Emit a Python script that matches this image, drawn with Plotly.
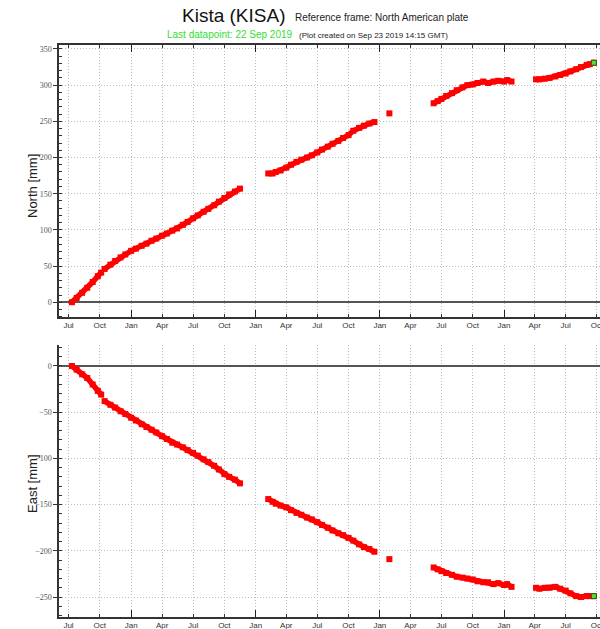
import plotly.graph_objects as go

# ---------------- data ----------------
dates = [
    "2015-07-11", "2015-07-25", "2015-08-10", "2015-08-25", "2015-09-10", "2015-09-25", "2015-10-05",
    "2015-10-15", "2015-11-01", "2015-11-15", "2015-12-01", "2015-12-15", "2016-01-01", "2016-01-15",
    "2016-02-01", "2016-02-15", "2016-03-01", "2016-03-15", "2016-04-01", "2016-04-15", "2016-05-01",
    "2016-05-15", "2016-06-01", "2016-06-15", "2016-07-01", "2016-07-15", "2016-08-01", "2016-08-15",
    "2016-09-01", "2016-09-15", "2016-10-01", "2016-10-15", "2016-11-01", "2016-11-16",
    "2017-02-07", "2017-02-20", "2017-03-01", "2017-03-15", "2017-04-01", "2017-04-15", "2017-05-01",
    "2017-05-15", "2017-06-01", "2017-06-15", "2017-07-01", "2017-07-15", "2017-08-01", "2017-08-15",
    "2017-09-01", "2017-09-15", "2017-10-01", "2017-10-15", "2017-11-01", "2017-11-15", "2017-12-01",
    "2017-12-16",
    "2018-01-29",
    "2018-06-08", "2018-06-20", "2018-07-01", "2018-07-15", "2018-08-01", "2018-08-15", "2018-09-01",
    "2018-09-15", "2018-10-01", "2018-10-15", "2018-11-01", "2018-11-15", "2018-12-01", "2018-12-15",
    "2019-01-01", "2019-01-10", "2019-01-23",
    "2019-04-05", "2019-04-15", "2019-05-01", "2019-05-15", "2019-06-01", "2019-06-15", "2019-07-01",
    "2019-07-15", "2019-08-01", "2019-08-15", "2019-09-01", "2019-09-10", "2019-09-22",
]

north = [
    0, 6, 13, 20, 28, 36, 41,
    46, 52, 57, 62, 66, 71, 74, 78, 81, 85, 88, 92, 95, 99, 102, 107, 111, 116, 120, 125, 129,
    134, 139, 144, 149, 153, 157,
    178, 178, 180, 182, 186, 190, 194, 197, 200, 203, 207, 211, 215, 219, 223, 227, 231, 237,
    241, 244, 247, 249,
    261,
    275, 278, 281, 285, 289, 293, 297, 300, 301, 303, 305, 303, 305, 306, 305, 307, 305,
    308, 308, 309, 310, 312, 314, 316, 319, 322, 325, 328, 329, 331,
]

east = [
    0, -4, -9, -13, -20, -27, -31,
    -38, -42, -45, -49, -52, -56, -59, -63, -66, -69, -72, -76, -79, -83, -85, -88, -91, -94,
    -97, -101, -104, -108, -112, -117, -120, -123, -127,
    -144, -147, -149, -151, -153, -156, -159, -161, -164, -166, -169, -172, -175, -178, -181,
    -183, -186, -189, -193, -196, -198, -201,
    -209,
    -218, -220, -222, -224, -226, -228, -229, -230, -231, -233, -234, -234, -236, -235, -237,
    -236, -239,
    -240, -241, -240, -240, -239, -241, -243, -246, -249, -250, -249, -249, -249,
]

# continuous runs of observations (a new id where the record has a gap)
segment = [1] * 7 + [2] * 27 + [3] * 22 + [4] * 1 + [5] * 17 + [6] * 13

title_main = "Kista (KISA)"
title_frame = "Reference frame: North American plate"
title_last = "Last datapoint: 22 Sep 2019"
title_created = "(Plot created on Sep 23 2019 14:15 GMT)"

x_range = ["2015-06-03", "2019-10-10"]
north_range = [-20.4, 355.5]
east_range = [-271.6, 22.7]

# ---------------- figure ----------------
W, H = 600, 629
L, R = 59, 0
PW = W - L - R


def px(xpix):
    return (xpix - L) / PW


def py(ypix):
    return (H - ypix) / H


RED = "#ff0000"
fig = go.Figure()

for panel, values, ya in (("x", north, "y"), ("x2", east, "y2")):
    for sid in sorted(set(segment)):
        xs = [d for d, s in zip(dates, segment) if s == sid]
        ys = [v for v, s in zip(values, segment) if s == sid]
        fig.add_trace(go.Scatter(
            x=xs, y=ys, xaxis=panel, yaxis=ya, mode="lines+markers",
            line=dict(color=RED, width=5.5),
            marker=dict(color=RED, size=6, symbol="square"),
            showlegend=False, hoverinfo="x+y",
        ))
    # last datapoint highlighted in green
    fig.add_trace(go.Scatter(
        x=[dates[-1]], y=[values[-1]], xaxis=panel, yaxis=ya, mode="markers",
        marker=dict(color="#55dd33", size=5, symbol="square", line=dict(color="#335522", width=1)),
        showlegend=False,
    ))

# empty traces so the overlaid year-tick axes are drawn
fig.add_trace(go.Scatter(x=[], y=[], xaxis="x3", yaxis="y", showlegend=False, hoverinfo="skip"))
fig.add_trace(go.Scatter(x=[], y=[], xaxis="x4", yaxis="y2", showlegend=False, hoverinfo="skip"))

grid = dict(showgrid=True, gridcolor="#bdbdbd", griddash="1px,2px", gridwidth=1)
xcommon = dict(
    type="date", range=x_range, dtick="M3", tick0="2015-07-01", tickformat="%b",
    ticks="inside", ticklen=3, tickcolor="#333", tickwidth=1,
    showline=True, linecolor="#333", linewidth=1.5,
    tickfont=dict(family="Liberation Sans", size=8, color="#333"),
    ticklabeloverflow="allow",
    zeroline=False, automargin=False, **grid,
)
ycommon = dict(
    dtick=50, tick0=0, ticks="outside", ticklen=4, tickcolor="#333", tickwidth=1,
    showline=True, linecolor="#333", linewidth=1.5,
    tickfont=dict(family="Liberation Serif", size=8, color="#555"),
    zeroline=True, zerolinecolor="#555", zerolinewidth=1.5,
    minor=dict(dtick=10, ticks="inside", ticklen=3, tickcolor="#333", showgrid=False),
    automargin=False, **grid,
)
yearticks = dict(
    type="date", range=x_range, dtick="M12", tick0="2016-01-01",
    ticks="inside", ticklen=7, tickcolor="#222", tickwidth=1.2,
    showticklabels=False, showgrid=False, zeroline=False, showline=False,
)

fig.update_layout(
    width=W, height=H,
    margin=dict(l=L, r=R, t=0, b=0, autoexpand=False),
    paper_bgcolor="white", plot_bgcolor="white",
    font=dict(family="Liberation Sans", color="#222"),
    xaxis=dict(domain=[0, 1], anchor="y", mirror="ticks", **xcommon),
    yaxis=dict(domain=[py(317), py(45)], anchor="x", range=north_range, **ycommon),
    xaxis2=dict(domain=[0, 1], anchor="y2", **xcommon),
    yaxis2=dict(domain=[py(617), py(345)], anchor="x2", range=east_range, **ycommon),
    xaxis3=dict(overlaying="x", anchor="y", mirror="ticks", **yearticks),
    xaxis4=dict(overlaying="x2", anchor="y2", **yearticks),
    annotations=[
        dict(text=title_main, x=px(180), y=py(15), xref="paper", yref="paper", xanchor="left",
             yanchor="middle", showarrow=False, font=dict(size=19, color="#111")),
        dict(text=title_frame, x=px(293), y=py(18), xref="paper", yref="paper", xanchor="left",
             yanchor="middle", showarrow=False, font=dict(size=10, color="#222")),
        dict(text=title_last, x=px(165), y=py(34), xref="paper", yref="paper", xanchor="left",
             yanchor="middle", showarrow=False, font=dict(size=10, color="#33dd33")),
        dict(text=title_created, x=px(297), y=py(35), xref="paper", yref="paper", xanchor="left",
             yanchor="middle", showarrow=False, font=dict(size=8, color="#222")),
        dict(text="North [mm]", x=px(33), y=py(186), xref="paper", yref="paper", textangle=-90,
             xanchor="center", yanchor="middle", showarrow=False, font=dict(size=13, color="#222")),
        dict(text="East [mm]", x=px(32), y=py(484), xref="paper", yref="paper", textangle=-90,
             xanchor="center", yanchor="middle", showarrow=False, font=dict(size=13, color="#222")),
    ],
)

fig.write_html(
    "out.html",
    config={"displayModeBar": False},
    post_script="document.body.style.margin='0';document.body.style.overflow='hidden';",
)
